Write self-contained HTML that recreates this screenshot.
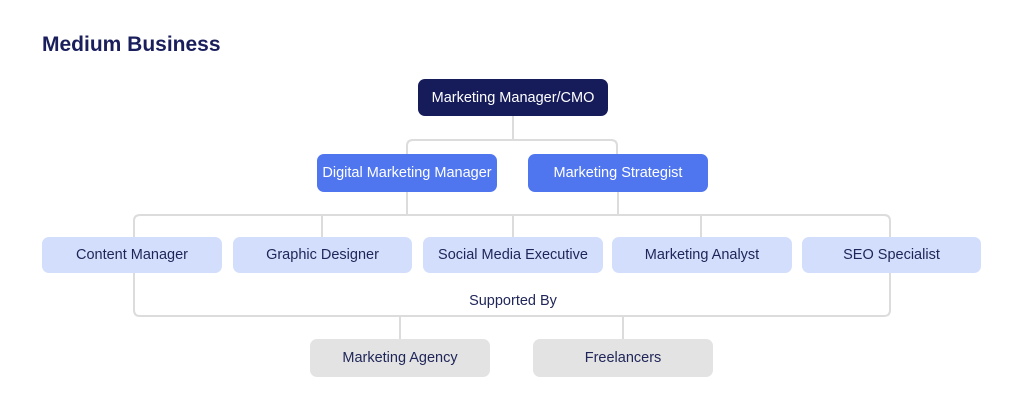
<!DOCTYPE html>
<html><head><style>
body{margin:0;width:1024px;height:413px;background:#fff;position:relative;font-family:"Liberation Sans",sans-serif;overflow:hidden}
.b{position:absolute;display:flex;align-items:center;justify-content:center;border-radius:7px;font-size:14.5px;color:#1f2558}
h1{position:absolute;left:42px;top:33px;margin:0;font-size:21px;color:#1a1f5c;font-weight:bold}
</style></head><body>
<h1>Medium Business</h1>
<svg width="1024" height="413" style="position:absolute;left:0;top:0" fill="none" stroke="#dcdcdc" stroke-width="2">
<path d="M513 116V140M407 155V146Q407 140 413 140H611Q617 140 617 146V155"/>
<path d="M407 192V215M618 192V215M134 237V221Q134 215 140 215H884Q890 215 890 221V237M322 215V237M513 215V237M701 215V237"/>
<path d="M134 273V310Q134 316 140 316H884Q890 316 890 310V273M400 316V340M623 316V340"/>
</svg>
<div class="b" style="left:418px;top:79px;width:190px;height:37px;background:#161c5a;color:#fff">Marketing Manager/CMO</div>
<div class="b" style="left:317px;top:154px;width:180px;height:38px;background:#5076ef;color:#fff">Digital Marketing Manager</div>
<div class="b" style="left:528px;top:154px;width:180px;height:38px;background:#5076ef;color:#fff">Marketing Strategist</div>
<div class="b" style="left:42px;top:237px;width:180px;height:36px;background:#d2defc">Content Manager</div>
<div class="b" style="left:233px;top:237px;width:179px;height:36px;background:#d2defc">Graphic Designer</div>
<div class="b" style="left:423px;top:237px;width:180px;height:36px;background:#d2defc">Social Media Executive</div>
<div class="b" style="left:612px;top:237px;width:180px;height:36px;background:#d2defc">Marketing Analyst</div>
<div class="b" style="left:802px;top:237px;width:179px;height:36px;background:#d2defc">SEO Specialist</div>
<div class="b" style="left:413px;top:291px;width:200px;height:20px">Supported By</div>
<div class="b" style="left:310px;top:339px;width:180px;height:38px;background:#e3e3e3">Marketing Agency</div>
<div class="b" style="left:533px;top:339px;width:180px;height:38px;background:#e3e3e3">Freelancers</div>
</body></html>
